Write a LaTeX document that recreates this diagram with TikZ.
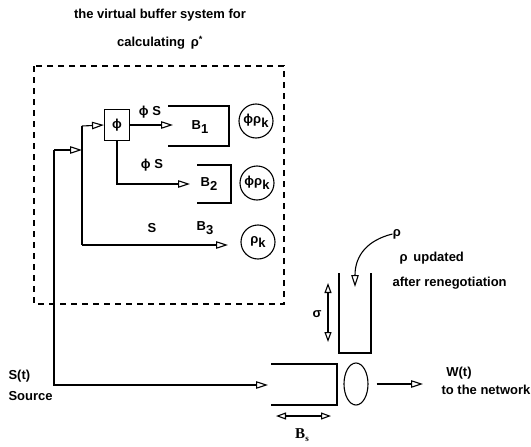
\documentclass[tikz,border=0pt]{standalone}
\usepackage{fontspec}
\setmainfont{Liberation Sans}
\newfontfamily\serifb{Liberation Serif}
\usetikzlibrary{arrows.meta,shapes.geometric}
\newcommand\lowsub[1]{\raisebox{-0.5ex}{#1}}
\begin{document}
\begin{tikzpicture}[x=1pt,y=-1pt, line width=1.1pt,
  tri/.style={-{Triangle[open,length=12pt,width=7.5pt]}},
  dtri/.style={{Triangle[open,length=10pt,width=7pt]}-{Triangle[open,length=10pt,width=7pt]}},
  lbl/.style={font=\fontsize{13}{15}\selectfont\bfseries, inner sep=0pt},
  circ/.style={draw, circle, minimum size=34pt, inner sep=0pt, font=\fontsize{13}{15}\selectfont\bfseries},
  buf/.style={line width=1.1pt}]
\useasboundingbox (0,0) rectangle (531,447);
% title
\node[lbl] (t1) at (160,15) {the virtual buffer system for};
\node[lbl] (t2) at (160,43) {calculating \,ρ\textsuperscript{*}};
% dashed frame
\draw[dash pattern=on 6pt off 5pt] (34,66) rectangle (284,304);
% source lines
\coordinate (a0) at (54,150);
\coordinate (a1) at (54,385);
\coordinate (b0) at (82,126);
\coordinate (b1) at (82,245);
\node[draw, minimum width=25pt, minimum height=31pt, inner sep=0pt, font=\fontsize{13}{15}\selectfont\bfseries] (phi) at (117,125) {ϕ};
\coordinate (bsin) at (268,385);
\draw[tri] (a0) -- (a1) -- (bsin);
\draw[tri] (a0) -- (b0 |- a0);
\draw (b0) -- (b1);
\draw[tri] (b0) -- (phi.west);
\coordinate (b1in) at (173,125);
\draw[tri] (phi.east) -- (b1in);
\coordinate (b2in) at (190,184);
\draw[tri] (phi.south) |- (b2in);
\coordinate (b3in) at (228,245);
\draw[tri] (b1) -- (b3in);
% labels
\node[lbl] (l1) at (150,112) {ϕ S};
\node[lbl] (l2) at (152,165) {ϕ S};
\node[lbl] (l3) at (152,228) {S};
% buffers
\draw[buf] (168,106) -- (229,106) -- (229,146) -- (168,146);
\node[lbl] (B1) at (200,127) {B\lowsub{1}};
\draw[buf] (197,165) -- (231,165) -- (231,203) -- (197,203);
\node[lbl] (B2) at (209,184) {B\lowsub{2}};
\node[lbl] (B3) at (205,228) {B\lowsub{3}};
% circles
\node[circ] (c1) at (256,121) {ϕρ\lowsub{k}};
\node[circ] (c2) at (257,183) {ϕρ\lowsub{k}};
\node[circ] (c3) at (258,242) {ρ\lowsub{k}};
% right part
\node[lbl] (rho) at (397,234) {ρ};
\node[lbl, anchor=west] (upd) at (399,258) {ρ \,updated};
\node[lbl, anchor=west] (aft) at (392,283) {after renegotiation};
\coordinate (rtip) at (355,287);
\draw[tri] (rho.west) .. controls (368,240) and (355,255) .. (rtip);
\draw[buf] (339,273) -- (339,353) -- (371,353) -- (371,273);
\coordinate (s0) at (328,283);
\coordinate (s1) at (328,342);
\draw[dtri] (s0) -- (s1);
\node[lbl] (sig) at (317,314) {σ};
\draw[buf] (271,364) -- (337,364) -- (337,405) -- (271,405);
\node[draw, ellipse, minimum width=24pt, minimum height=42pt, inner sep=0pt] (srv) at (356,384) {};
\coordinate (wtip) at (423,384);
\draw[tri, shorten <=8pt] (srv.east) -- (wtip);
\node[lbl] (w) at (459,373) {W(t)};
\node[lbl, anchor=west] (net) at (441,390) {to the network};
\coordinate (bs0) at (276,416);
\coordinate (bs1) at (331,416);
\draw[dtri] (bs0) -- (bs1);
\node[inner sep=0pt, font=\fontsize{15}{17}\selectfont] (Bs) at (302,435) {\serifb\bfseries B\lowsub{\small s}};
\node[lbl, anchor=west] (st) at (8,376) {S(t)};
\node[lbl, anchor=west] (src) at (8,396) {Source};
\end{tikzpicture}
\end{document}
